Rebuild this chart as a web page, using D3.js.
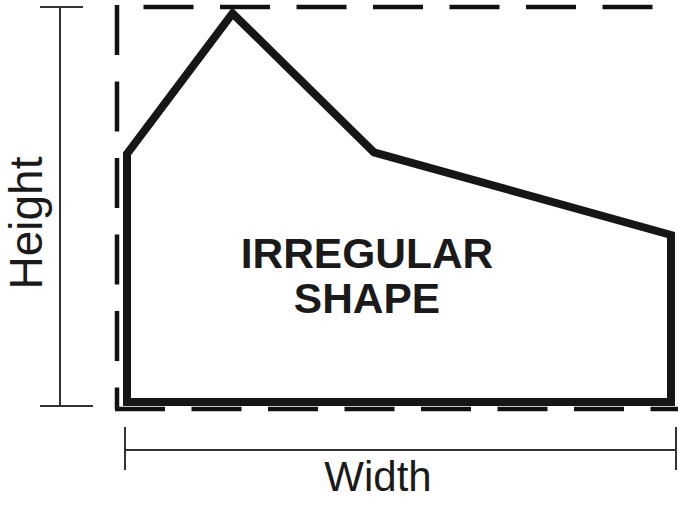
<!DOCTYPE html>
<html>
<head>
<meta charset="utf-8">
<script src="https://cdn.jsdelivr.net/npm/d3@7"></script>
<style>
  body { margin: 0; background: #fff; }
  svg { display: block; }
  text { font-family: "Liberation Sans", Arial, sans-serif; fill: #1a1a1a; }
</style>
</head>
<body>
<div id="chart"></div>
<script>
// shape outline, in units of its own bounding box (0..100 each way)
const shapeX = [0, 0, 19.4, 45.4, 100, 100];
const shapeY = [0, 62.8, 98.4, 63.2, 42.3, 0];
const labelLines = ["IRREGULAR", "SHAPE"];
const heightLabel = "Height";
const widthLabel = "Width";

const width = 678, height = 505;
const svg = d3.select("#chart").append("svg")
    .attr("width", width)
    .attr("height", height);

const x = d3.scaleLinear().domain([0, 100]).range([127, 671]);
const y = d3.scaleLinear().domain([0, 100]).range([402, 7]);

const points = shapeX.map((d, i) => [x(d), y(shapeY[i])]);
const line = d3.line();

// dashed bounding box (left, top, bottom)
const boxL = x(0) - 10, boxB = y(0) + 7, boxT = y(100), boxR = width + 2;
const dash = "50 26.5";
svg.append("path")
    .attr("d", line([[boxL, boxT - 2], [boxL, boxB]]))
    .attr("stroke", "#111").attr("stroke-width", 4.5)
    .attr("stroke-dasharray", dash).attr("fill", "none");
svg.append("path")
    .attr("d", line([[boxL, boxT], [boxR, boxT]]))
    .attr("stroke", "#111").attr("stroke-width", 4.5)
    .attr("stroke-dasharray", dash).attr("stroke-dashoffset", 50)
    .attr("fill", "none");
svg.append("path")
    .attr("d", line([[boxL - 2, boxB], [width, boxB]]))
    .attr("stroke", "#111").attr("stroke-width", 4.5)
    .attr("stroke-dasharray", dash).attr("fill", "none");

// the shape
svg.append("path")
    .attr("d", line(points) + "Z")
    .attr("fill", "none")
    .attr("stroke", "#161616")
    .attr("stroke-width", 8)
    .attr("stroke-linejoin", "miter");

svg.selectAll("text.lab")
    .data(labelLines)
    .enter().append("text")
    .attr("class", "lab")
    .attr("x", 367)
    .attr("y", (d, i) => 268 + i * 45)
    .attr("text-anchor", "middle")
    .attr("font-weight", "bold")
    .attr("font-size", 42.5)
    .text(d => d);

// height dimension
const dim = svg.append("g").attr("stroke", "#333").attr("stroke-width", 2);
dim.append("line").attr("x1", 60).attr("x2", 60).attr("y1", y(100)).attr("y2", 406);
dim.append("line").attr("x1", 40).attr("x2", 83).attr("y1", y(100)).attr("y2", y(100));
dim.append("line").attr("x1", 40).attr("x2", 93).attr("y1", 406).attr("y2", 406);

svg.append("text")
    .attr("transform", "translate(42," + 223 + ") rotate(-90)")
    .attr("text-anchor", "middle")
    .attr("font-size", 46)
    .text(heightLabel);

// width dimension
dim.append("line").attr("x1", 125).attr("x2", 676).attr("y1", 450).attr("y2", 450);
dim.append("line").attr("x1", 125).attr("x2", 125).attr("y1", 427).attr("y2", 470);
dim.append("line").attr("x1", 676).attr("x2", 676).attr("y1", 427).attr("y2", 470);

svg.append("text")
    .attr("x", 378)
    .attr("y", 491)
    .attr("text-anchor", "middle")
    .attr("font-size", 42)
    .text(widthLabel);
</script>
</body>
</html>
